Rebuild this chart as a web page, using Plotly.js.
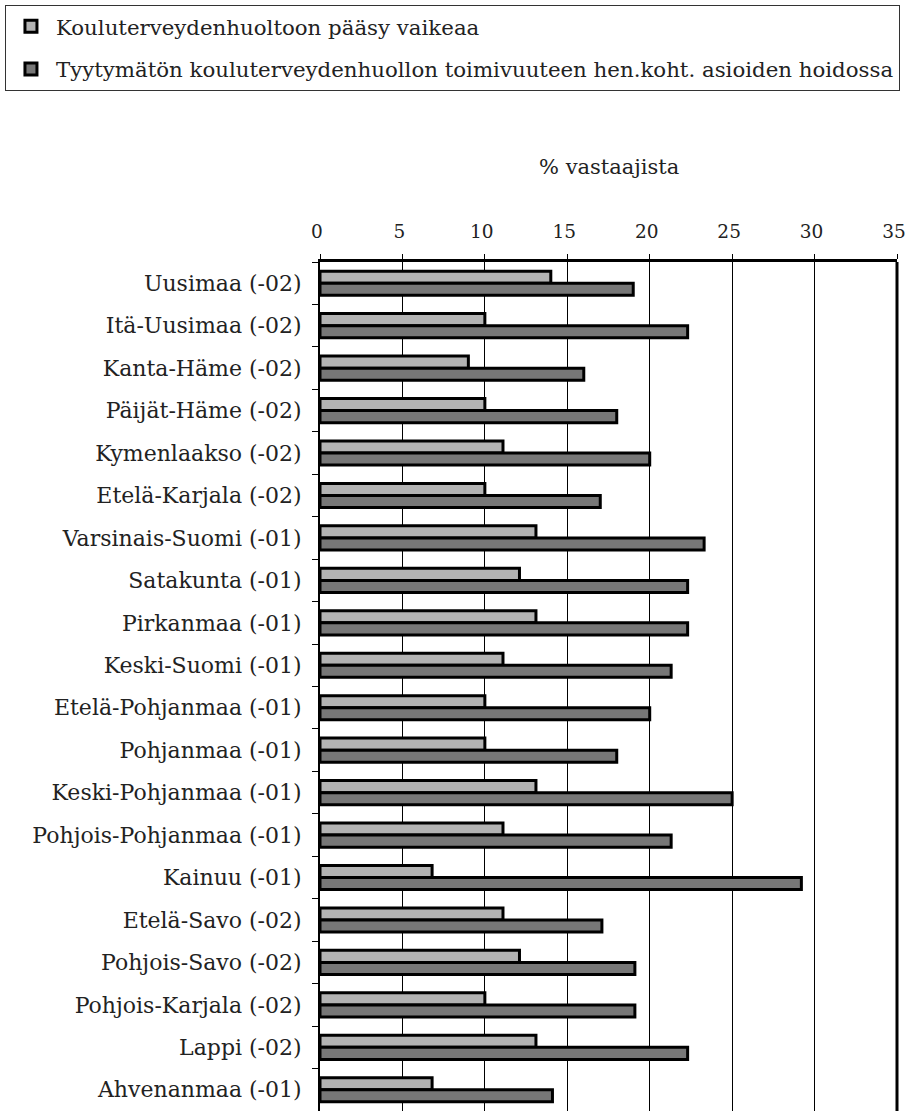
<!DOCTYPE html>
<html>
<head>
<meta charset="utf-8">
<script src="https://cdn.plot.ly/plotly-3.0.1.min.js"></script>
<style>
  html, body { margin: 0; padding: 0; background: #fff; }
  #chart { width: 909px; height: 1111px; }
</style>
</head>
<body>
<div id="chart"></div>
<script>
const regions = [
  "Uusimaa (-02)", "Itä-Uusimaa (-02)", "Kanta-Häme (-02)", "Päijät-Häme (-02)",
  "Kymenlaakso (-02)", "Etelä-Karjala (-02)", "Varsinais-Suomi (-01)", "Satakunta (-01)",
  "Pirkanmaa (-01)", "Keski-Suomi (-01)", "Etelä-Pohjanmaa (-01)", "Pohjanmaa (-01)",
  "Keski-Pohjanmaa (-01)", "Pohjois-Pohjanmaa (-01)", "Kainuu (-01)", "Etelä-Savo (-02)",
  "Pohjois-Savo (-02)", "Pohjois-Karjala (-02)", "Lappi (-02)", "Ahvenanmaa (-01)"
];
const seriesNames = [
  "Kouluterveydenhuoltoon pääsy vaikeaa",
  "Tyytymätön kouluterveydenhuollon toimivuuteen hen.koht. asioiden hoidossa"
];
const accessDifficult = [14, 10, 9, 10, 11.1, 10, 13.1, 12.1, 13.1, 11.1, 10, 10, 13.1, 11.1, 6.8, 11.1, 12.1, 10, 13.1, 6.8];
const dissatisfied = [19, 22.3, 16, 18, 20, 17, 23.3, 22.3, 22.3, 21.3, 20, 18, 25, 21.3, 29.2, 17.1, 19.1, 19.1, 22.3, 14.1];
const xTickVals = [0, 5, 10, 15, 20, 25, 30, 35];
const xTickText = ["0", "5", "10", "15", "20", "25", "30", "35"];
const axisTitle = "% vastaajista";

const FONT = "DejaVu Serif";
const TXT = "#222";

const traces = [
  {
    type: "bar", orientation: "h", name: seriesNames[0], legendgroup: "a",
    y: regions, x: accessDifficult,
    marker: { color: "#b3b3b3", line: { color: "#000", width: 3 } },
    hoverinfo: "x+y"
  },
  {
    type: "bar", orientation: "h", name: seriesNames[1], legendgroup: "b",
    y: regions, x: dissatisfied,
    marker: { color: "#777777", line: { color: "#000", width: 3 } },
    hoverinfo: "x+y"
  }
];

const layout = {
  width: 909, height: 1111,
  margin: { l: 320, r: 12, t: 262, b: 0, pad: 0 },
  paper_bgcolor: "#fff", plot_bgcolor: "#fff",
  font: { family: FONT, size: 21, color: TXT },
  barmode: "group", bargap: 0.43, bargroupgap: 0,
  xaxis: {
    side: "top", range: [0, 35], tickvals: xTickVals, ticktext: xTickText,
    showgrid: true, gridcolor: "#000", gridwidth: 1,
    showline: true, linecolor: "#000", linewidth: 3,
    ticks: "outside", ticklen: 5, tickwidth: 1, tickcolor: "#000",
    zeroline: false, tickfont: { family: FONT, size: 18.5, color: TXT },
    ticklabelstandoff: 9, ticklabelshift: -3, ticklabeloverflow: "allow",
    fixedrange: true
  },
  yaxis: {
    type: "category", autorange: "reversed", tickson: "boundaries",
    ticks: "outside", ticklen: 6, tickwidth: 1, tickcolor: "#000",
    showline: true, linecolor: "#000", linewidth: 2,
    showgrid: false, zeroline: false, ticklabelstandoff: 12,
    tickfont: { family: FONT, size: 22, color: TXT },
    fixedrange: true
  },
  legend: {
    x: -0.546, y: 1.3027, xanchor: "left", yanchor: "top",
    bordercolor: "#333", borderwidth: 1, bgcolor: "#fff",
    font: { family: FONT, size: 21.3, color: TXT },
    traceorder: "grouped", tracegroupgap: 12, itemwidth: 40
  },
  showlegend: true,
  annotations: [
    {
      text: axisTitle, xref: "paper", yref: "paper",
      x: 0.5, y: 1 + (262 - 167) / 849,
      xanchor: "center", yanchor: "middle", showarrow: false,
      font: { family: FONT, size: 21, color: TXT }
    }
  ],
  shapes: [
    { type: "line", xref: "paper", yref: "paper", x0: 1, x1: 1, y0: 0, y1: 1,
      line: { color: "#000", width: 3 } }
  ]
};

Plotly.newPlot("chart", traces, layout, { displayModeBar: false });
</script>
</body>
</html>
